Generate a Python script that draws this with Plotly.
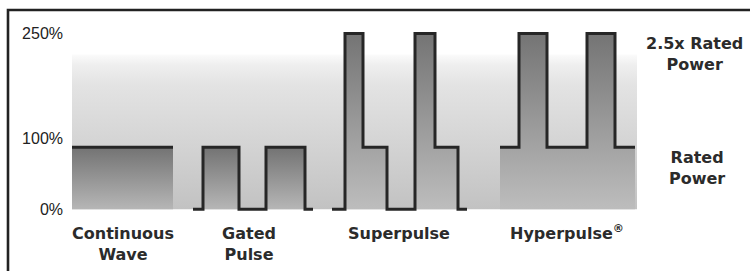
import plotly.graph_objects as go

# ---------------- data ----------------
# time axis in arbitrary units, power in % of rated power (as read against the axis)
cw_t = [0, 101]
cw_p = [88, 88]

gated_t = [121, 131, 167, 194, 233, 241]
gated_p = [0, 88, 0, 88, 0, 0]

super_t = [260, 273, 291, 315, 343, 363, 386, 395]
super_p = [0, 250, 88, 0, 250, 88, 0, 0]

hyper_t = [428, 447, 475, 515, 543, 563]
hyper_p = [88, 250, 88, 250, 88, 88]

backdrop_t = [0, 565]
backdrop_p = [220, 220]

y_tickvals = [0, 100, 250]
y_ticktext = ["0%", "100%", "250%"]

mode_centers = [51, 177, 327, 495]
mode_labels = ["Continuous<br>Wave", "Gated<br>Pulse", "Superpulse", "Hyperpulse<sup>®</sup>"]

level_labels = ["2.5x Rated<br>Power", "Rated<br>Power"]

# ---------------- layout constants ----------------
W, H = 750, 271
ML, MR, MT, MB = 66, 100, 25, 59
PW, PH = W - ML - MR, H - MT - MB

def px_x(px):
    return (px - ML) / PW

def px_y(py):
    return 1 - (py - MT) / PH

LINE = dict(color="#262626", width=3)
dark_scale_low = [[0, "#b6b6b6"], [1, "#737373"]]
dark_scale_high = [[0, "#bdbdbd"], [1, "#747474"]]

fig = go.Figure()

fig.add_trace(go.Scatter(
    x=backdrop_t, y=backdrop_p, mode="lines", line=dict(width=0),
    fill="tozeroy",
    fillgradient=dict(type="vertical", start=0, stop=max(backdrop_p),
                      colorscale=[[0, "#c2c2c2"], [0.4, "#d3d3d3"], [0.8, "#e3e3e3"],
                                  [0.93, "#eeeeee"], [1, "#fbfbfb"]]),
    hoverinfo="skip", showlegend=False))

for t, p, scale in [(cw_t, cw_p, dark_scale_low),
                    (gated_t, gated_p, dark_scale_low),
                    (super_t, super_p, dark_scale_high),
                    (hyper_t, hyper_p, dark_scale_high)]:
    fig.add_trace(go.Scatter(
        x=t, y=p, mode="lines", line=dict(shape="hv", **LINE),
        fill="tozeroy",
        fillgradient=dict(type="vertical", start=0, stop=max(p), colorscale=scale),
        hoverinfo="skip", showlegend=False))

annotations = [
    dict(text=level_labels[0], x=px_x(694), y=px_y(54), xref="paper", yref="paper",
         showarrow=False, xanchor="center", yanchor="middle",
         font=dict(family="DejaVu Sans", size=16, color="#2b2b2b", weight="bold")),
    dict(text=level_labels[1], x=px_x(697), y=px_y(168), xref="paper", yref="paper",
         showarrow=False, xanchor="center", yanchor="middle",
         font=dict(family="DejaVu Sans", size=16, color="#2b2b2b", weight="bold")),
]

frame = dict(type="path", xref="paper", yref="paper",
             path=f"M {px_x(8)} {px_y(272)} L {px_x(8)} {px_y(10)} L {px_x(752)} {px_y(10)}",
             line=dict(color="#222222", width=2.6))

fig.update_layout(
    width=W, height=H,
    margin=dict(l=ML, r=MR, t=MT, b=MB, autoexpand=False),
    paper_bgcolor="white", plot_bgcolor="white",
    xaxis=dict(range=[ML - 72, 578], showgrid=False, zeroline=False, showline=False,
               ticks="", tickvals=mode_centers, ticktext=mode_labels,
               ticklabelstandoff=10, automargin=False,
               tickfont=dict(family="DejaVu Sans", size=16, color="#2b2b2b", weight="bold"),
               fixedrange=True),
    yaxis=dict(range=[-4, 262], showgrid=False, zeroline=False, showline=False,
               ticks="", tickvals=y_tickvals, ticktext=y_ticktext,
               ticklabelstandoff=2, automargin=False,
               tickfont=dict(family="Liberation Sans", size=16, color="#222222"),
               fixedrange=True),
    annotations=annotations,
    shapes=[frame],
    hovermode=False,
)

fig.write_html("out.html", config={"displayModeBar": False, "staticPlot": True},
               post_script="document.body.style.margin='0';document.body.style.overflow='hidden';")
